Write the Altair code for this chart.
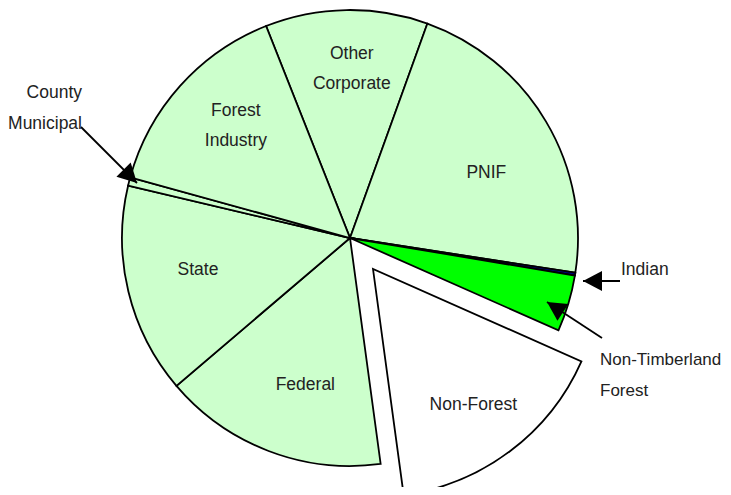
import math
import altair as alt
import pandas as pd

# ---- data (% of area) ----
owners = ["Other Corporate", "PNIF", "Indian", "Non-Timberland Forest", "Non-Forest",
          "Federal", "State", "County Municipal", "Forest Industry"]
shares = [11.5, 21.9, 0.2, 4.0, 16.2, 15.9, 14.9, 0.6, 14.7]
inside_labels = ["Other\nCorporate", "PNIF", "", "", "Non-Forest",
                 "Federal", "State", "", "Forest\nIndustry"]
fills = ["#CCFFCC", "#CCFFCC", "#000080", "#00FF00", "#FFFFFF",
         "#CCFFCC", "#CCFFCC", "#CCFFCC", "#CCFFCC"]
callout_labels = ["County\nMunicipal", "Indian", "Non-Timberland\nForest"]

df = pd.DataFrame({"owner": owners, "share": shares, "label": inside_labels,
                   "order": list(range(len(owners)))})
one = pd.DataFrame({"k": [0]})

FONT = "Liberation Sans"
TXT = "#222222"
FS = 17.5
R = 228
CX, CY = 342, 230          # pie centre
EX, EY = 365, 261          # centre of the exploded slice
START = math.radians(-21.6)

base = alt.Chart(df).encode(
    theta=alt.Theta("share:Q", stack=True,
                    scale=alt.Scale(range=[START, START + 2 * math.pi])),
    order=alt.Order("order:Q"),
)

color = alt.Color("owner:N", scale=alt.Scale(domain=owners, range=fills), legend=None)

pie = base.mark_arc(radius=R, stroke="black", strokeWidth=1.8).encode(
    color=color,
    opacity=alt.condition(alt.datum.owner == "Non-Forest", alt.value(0), alt.value(1)),
    x=alt.value(CX), y=alt.value(CY),
)
exploded = base.mark_arc(radius=R, stroke="black", strokeWidth=1.8).encode(
    color=color,
    opacity=alt.condition(alt.datum.owner == "Non-Forest", alt.value(1), alt.value(0)),
    x=alt.value(EX), y=alt.value(EY),
)


def label_layer(name, r, dtheta, cx, cy):
    return base.mark_text(radius=r, thetaOffset=dtheta, fontSize=FS, font=FONT,
                          lineBreak="\n", lineHeight=30, color=TXT, dy=2,
                          align="center", baseline="middle").encode(
        text="label:N", detail="owner:N", color=alt.value(TXT),
        opacity=alt.condition(alt.datum.owner == name, alt.value(1), alt.value(0)),
        x=alt.value(cx), y=alt.value(cy),
    )


labels = [
    label_layer("Other Corporate", 186, 0.025, CX, CY),
    label_layer("Forest Industry", 172, 0.114, CX, CY),
    label_layer("PNIF", 152, 0.078, CX, CY),
    label_layer("State", 155, 0.042, CX, CY),
    label_layer("Federal", 152, -0.067, CX, CY),
    label_layer("Non-Forest", 167, 0.0, EX, EY),
]

ARROW = "M0,0L-0.53,1L0.53,1Z"


def arrow(x1, y1, x2, y2, ang):
    line = alt.Chart(one).mark_rule(color="black", strokeWidth=1.8).encode(
        x=alt.value(x1), y=alt.value(y1), x2=alt.value(x2), y2=alt.value(y2))
    head = alt.Chart(one).mark_point(shape=ARROW, filled=True, color="black",
                                     opacity=1, size=1444, angle=ang, strokeWidth=0).encode(
        x=alt.value(x2), y=alt.value(y2))
    return line + head


def callout(text, x, y, align, fs=FS):
    return alt.Chart(one).mark_text(text=text, fontSize=fs, font=FONT, color=TXT,
                                    lineBreak="\n", lineHeight=31, align=align, dy=2,
                                    baseline="middle").encode(
        x=alt.value(x), y=alt.value(y))


annotations = [
    arrow(73, 119, 129, 175, 135),
    callout(callout_labels[0], 74, 83, "right"),
    arrow(612, 273, 575, 273, 270),
    callout(callout_labels[1], 613, 260, "left"),
    arrow(594, 330, 539, 294, 303),
    callout(callout_labels[2], 592, 350, "left", 17),
]

chart = alt.layer(pie, exploded, *labels, *annotations).properties(
    width=715, height=479, autosize="none",
    padding=0, background="white",
).configure_view(stroke=None)

chart.save("out.html", embed_options={"renderer": "svg", "actions": False})
